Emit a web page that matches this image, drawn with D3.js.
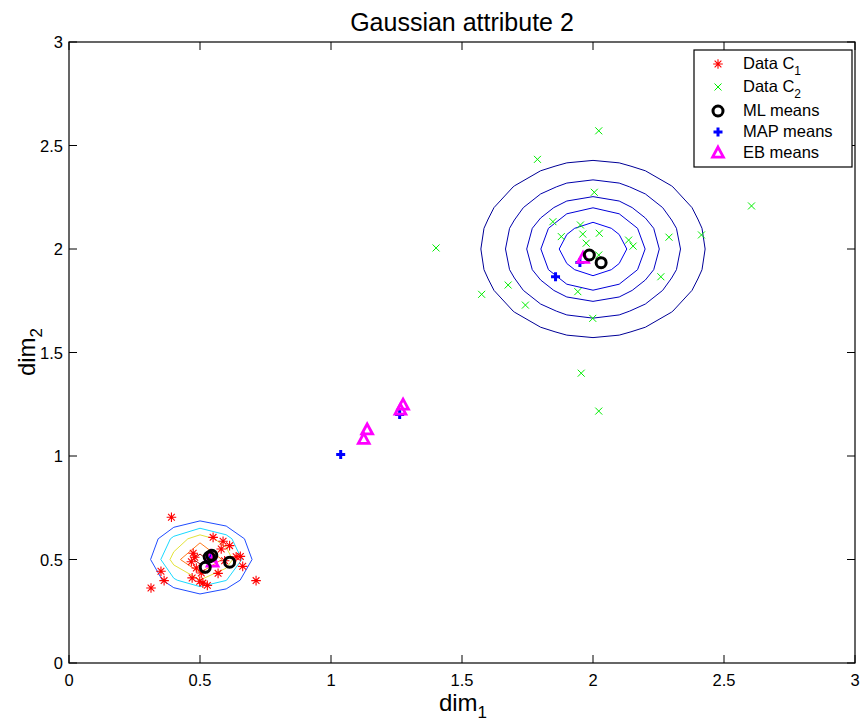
<!DOCTYPE html>
<html><head><meta charset="utf-8">
<script src="https://cdn.jsdelivr.net/npm/d3@7"></script>
<style>body{margin:0;background:#fff} svg{display:block} text{font-family:"Liberation Sans",Arial,Helvetica,sans-serif;fill:#000}</style>
</head><body><svg id="c" width="860" height="721"></svg>
<script>
// ---- data ----
const title = "Gaussian attribute 2";
const xTicks = [0, 0.5, 1, 1.5, 2, 2.5, 3];
const yTicks = [0, 0.5, 1, 1.5, 2, 2.5, 3];
const xTickLabels = ["0", "0.5", "1", "1.5", "2", "2.5", "3"];
const yTickLabels = ["0", "0.5", "1", "1.5", "2", "2.5", "3"];

const dataC1 = [[0.391,0.704],[0.550,0.607],[0.588,0.588],[0.613,0.567],[0.581,0.551],[0.654,0.515],
  [0.480,0.511],[0.474,0.530],[0.467,0.489],[0.663,0.467],[0.486,0.459],[0.351,0.443],[0.363,0.398],
  [0.470,0.411],[0.499,0.395],[0.511,0.386],[0.528,0.375],[0.714,0.398],[0.313,0.362],[0.505,0.435],
  [0.569,0.433],[0.594,0.494],[0.638,0.513]];
const dataC2 = [[2.022,2.571],[1.788,2.433],[2.005,2.274],[1.847,2.132],[1.952,2.116],[1.879,2.060],
  [1.961,2.072],[2.024,2.076],[1.974,2.028],[2.136,2.043],[2.153,2.014],[2.290,2.057],[2.414,2.068],
  [2.022,1.971],[2.259,1.866],[1.676,1.826],[1.575,1.781],[1.942,1.794],[1.742,1.729],[1.999,1.665],
  [1.401,2.005],[2.605,2.208],[1.955,1.400],[2.022,1.217]];
const mlMeans = [[1.986,1.971],[2.031,1.934],[0.535,0.512],[0.545,0.520],[0.520,0.462],[0.613,0.487]];
const mapMeans = [[1.037,1.007],[1.262,1.200],[1.857,1.866],[1.950,1.935],[0.543,0.515]];
const ebMeans = [[1.138,1.126],[1.125,1.081],[1.275,1.246],[1.265,1.222],[1.962,1.955],[0.548,0.488],[0.540,0.512]];

const contourCenters = [[0.505, 0.51], [2.0, 2.0]];
const contourAspect = [0.91, 1.0];
const contourRadii1 = [0.194, 0.155, 0.12, 0.082, 0.035];
const contourRadii2 = [0.428, 0.334, 0.253, 0.199, 0.129];
const contourColors1 = ["#1f4cff", "#19d9ff", "#e3e33a", "#ff7a1a", "#a31414"];
const contourColors2 = ["#000096", "#0000ac", "#0000c2", "#0000d8", "#0000ee"];
const gridStep = 0.1;

const legendLabels = [["Data C","1"],["Data C","2"],["ML means",""],["MAP means",""],["EB means",""]];

// ---- drawing ----
const svg = d3.select("#c");
const L = 69, R = 855, T = 42, B = 663;
const x = d3.scaleLinear().domain([0, 3]).range([L, R]);
const y = d3.scaleLinear().domain([0, 3]).range([B, T]);

// contours (marching squares on a regular grid)
const nG = Math.round(3 / gridStep) + 1;
function drawContours(ci, radii, colors) {
  const [mx, my] = contourCenters[ci];
  const asp = contourAspect[ci];
  const vals = new Array(nG * nG);
  for (let j = 0; j < nG; j++) for (let i = 0; i < nG; i++) {
    const gx = i * gridStep, gy = j * gridStep;
    vals[j * nG + i] = -Math.sqrt((gx - mx) ** 2 + ((gy - my) / asp) ** 2);
  }
  const gen = d3.contours().size([nG, nG]);
  const toX = c => x((c - 0.5) * gridStep), toY = c => y((c - 0.5) * gridStep);
  radii.forEach((r, k) => {
    const cont = gen.contour(vals, -r);
    let d = "";
    cont.coordinates.forEach(poly => poly.forEach(ring => {
      d += "M" + ring.map(p => toX(p[0]).toFixed(2) + "," + toY(p[1]).toFixed(2)).join("L") + "Z";
    }));
    svg.append("path").attr("d", d).attr("fill", "none").attr("stroke", colors[k]).attr("stroke-width", 1);
  });
}
drawContours(1, contourRadii2, contourColors2);
drawContours(0, contourRadii1, contourColors1);

// marker shapes
const star = s => `M${-s},0L${s},0M0,${-s}L0,${s}M${-s*0.7},${-s*0.7}L${s*0.7},${s*0.7}M${-s*0.7},${s*0.7}L${s*0.7},${-s*0.7}`;
const cross = s => `M${-s},${-s}L${s},${s}M${-s},${s}L${s},${-s}`;
const plus = s => `M${-s},0L${s},0M0,${-s}L0,${s}`;
const tri = s => `M0,${-s*1.1}L${s},${s*0.75}L${-s},${s*0.75}Z`;

function markers(data, path, stroke, sw, fill) {
  svg.append("g").selectAll("path").data(data).join("path")
    .attr("transform", d => `translate(${x(d[0])},${y(d[1])})`)
    .attr("d", path).attr("fill", fill || "none").attr("stroke", stroke).attr("stroke-width", sw);
}
markers(dataC1, star(4.8), "#ff0000", 1.1);
markers(dataC2, cross(3.5), "#00ee00", 1);
markers(mapMeans, plus(4.5), "#0000ff", 3);
markers(ebMeans, tri(5.4), "#ff00ff", 2.8);
svg.append("g").selectAll("circle").data(mlMeans).join("circle")
  .attr("cx", d => x(d[0])).attr("cy", d => y(d[1])).attr("r", 5)
  .attr("fill", "none").attr("stroke", "#000").attr("stroke-width", 3);

// axes box and ticks
const tl = 8;
svg.append("rect").attr("x", L).attr("y", T).attr("width", R - L).attr("height", B - T)
  .attr("fill", "none").attr("stroke", "#000").attr("stroke-width", 1.2);
const tg = svg.append("g").attr("stroke", "#000").attr("stroke-width", 1);
xTicks.forEach(t => {
  tg.append("line").attr("x1", x(t)).attr("x2", x(t)).attr("y1", B).attr("y2", B - tl);
  tg.append("line").attr("x1", x(t)).attr("x2", x(t)).attr("y1", T).attr("y2", T + tl);
});
yTicks.forEach(t => {
  tg.append("line").attr("y1", y(t)).attr("y2", y(t)).attr("x1", L).attr("x2", L + tl);
  tg.append("line").attr("y1", y(t)).attr("y2", y(t)).attr("x1", R).attr("x2", R - tl);
});
xTicks.forEach((t, i) => svg.append("text").attr("x", x(t)).attr("y", 686)
  .attr("text-anchor", "middle").attr("font-size", 16.5).text(xTickLabels[i]));
yTicks.forEach((t, i) => svg.append("text").attr("x", 63).attr("y", y(t) + 6)
  .attr("text-anchor", "end").attr("font-size", 16.5).text(yTickLabels[i]));

// title and labels
svg.append("text").attr("x", 462).attr("y", 31).attr("text-anchor", "middle")
  .attr("font-size", 25).text(title);
const xl = svg.append("text").attr("x", 463).attr("y", 711).attr("text-anchor", "middle").attr("font-size", 24);
xl.append("tspan").text("dim");
xl.append("tspan").attr("font-size", 17).attr("dy", 7).text("1");
const yl = svg.append("text").attr("transform", "translate(35,352) rotate(-90)").attr("text-anchor", "middle").attr("font-size", 24);
yl.append("tspan").text("dim");
yl.append("tspan").attr("font-size", 17).attr("dy", 7).text("2");

// legend
svg.append("rect").attr("x", 694).attr("y", 50).attr("width", 158).attr("height", 117)
  .attr("fill", "#fff").attr("stroke", "#000").attr("stroke-width", 1.2);
const ly = [64, 87, 111, 132, 153];
const lg = svg.append("g");
const lmk = [
  g => g.append("path").attr("d", star(4.8)).attr("stroke", "#ff0000").attr("stroke-width", 1.1).attr("fill", "none"),
  g => g.append("path").attr("d", cross(3.5)).attr("stroke", "#00ee00").attr("fill", "none"),
  g => g.append("circle").attr("r", 5).attr("stroke", "#000").attr("stroke-width", 3).attr("fill", "none"),
  g => g.append("path").attr("d", plus(4.5)).attr("stroke", "#0000ff").attr("stroke-width", 3).attr("fill", "none"),
  g => g.append("path").attr("d", tri(5.4)).attr("stroke", "#ff00ff").attr("stroke-width", 2.8).attr("fill", "none")
];
legendLabels.forEach((lab, i) => {
  const g = lg.append("g").attr("transform", `translate(718,${ly[i]})`);
  lmk[i](g);
  const t = lg.append("text").attr("x", 743).attr("y", ly[i] + 5).attr("font-size", 16.5);
  t.append("tspan").text(lab[0]);
  if (lab[1]) t.append("tspan").attr("font-size", 12).attr("dy", 6).text(lab[1]);
});
</script></body></html>
